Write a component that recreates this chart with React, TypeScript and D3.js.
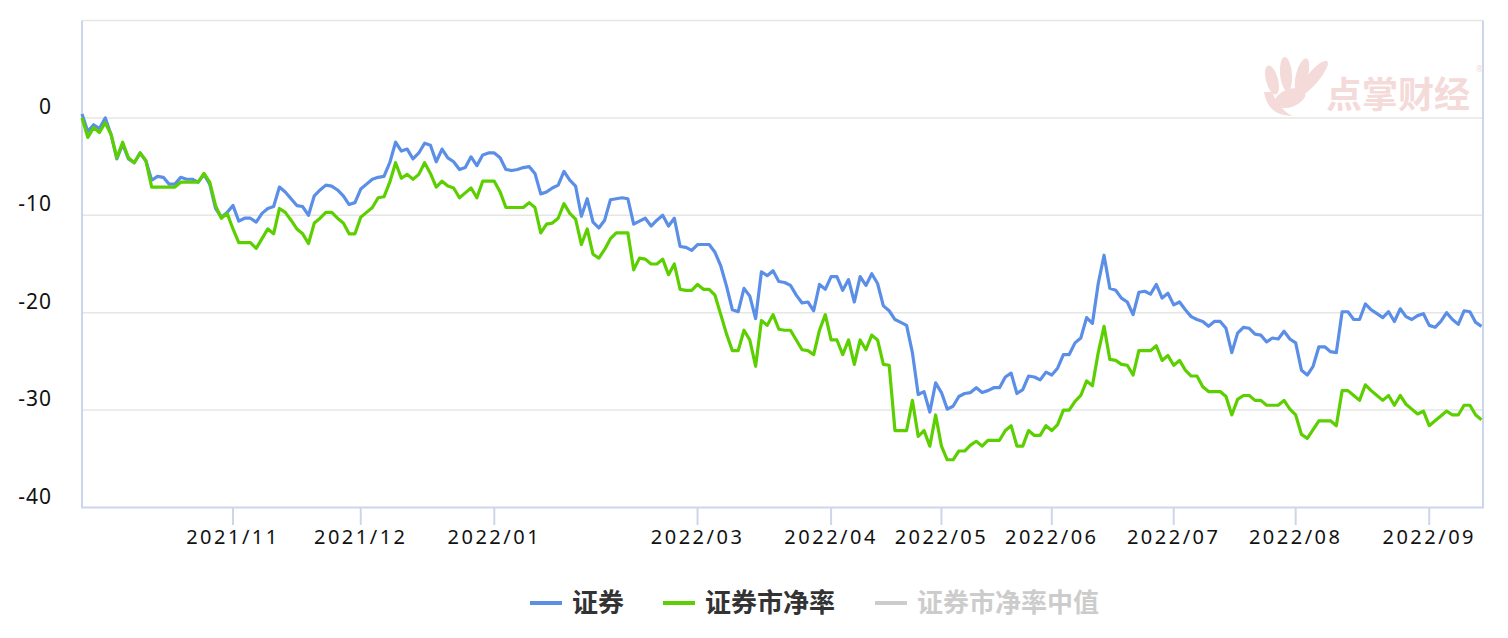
import React from "react";
import * as d3 from "d3";

const W = 1508;
const H = 638;

// Cumulative % change, one value per trading day (2021-09-15 .. 2022-09-14)
const securities: number[] = [
  0.4, -1.4, -0.7, -1.1, 0.0, -1.7, -4.2, -2.7, -4.2, -4.6,
  -3.6, -4.4, -6.4, -6.0, -6.1, -6.8, -6.8, -6.1, -6.3, -6.3,
  -6.6, -5.8, -6.8, -9.3, -10.2, -9.7, -9.0, -10.6, -10.3, -10.3,
  -10.7, -9.8, -9.3, -9.1, -7.1, -7.6, -8.3, -9.0, -9.1, -10.0,
  -8.0, -7.4, -6.9, -7.0, -7.4, -8.0, -8.9, -8.7, -7.3, -6.8,
  -6.3, -6.1, -6.0, -4.6, -2.5, -3.4, -3.2, -4.2, -3.6, -2.6,
  -2.8, -4.5, -3.2, -4.1, -4.5, -5.3, -5.1, -4.0, -4.9, -3.8,
  -3.6, -3.6, -4.1, -5.3, -5.4, -5.3, -5.1, -5.0, -5.7, -7.8,
  -7.6, -7.2, -6.9, -5.5, -6.4, -7.0, -10.1, -8.3, -10.7, -11.3,
  -10.5, -8.4, -8.3, -8.2, -8.3, -10.9, -10.6, -10.3, -11.1, -10.5,
  -10.0, -11.1, -10.3, -13.2, -13.3, -13.6, -13.0, -13.0, -13.0, -13.8,
  -15.2, -17.3, -19.7, -19.9, -17.5, -18.3, -20.6, -15.8, -16.2, -15.7,
  -16.8, -16.9, -17.2, -18.2, -19.0, -18.9, -19.8, -17.1, -17.6, -16.3,
  -16.3, -17.7, -16.6, -18.9, -16.3, -17.2, -16.0, -17.0, -19.3, -19.8,
  -20.7, -21.0, -21.3, -24.1, -28.4, -28.1, -30.2, -27.2, -28.2, -29.9,
  -29.6, -28.6, -28.3, -28.2, -27.7, -28.2, -28.0, -27.7, -27.7, -26.6,
  -26.2, -28.3, -27.9, -26.5, -26.6, -26.9, -26.1, -26.4, -25.7, -24.3,
  -24.3, -23.1, -22.6, -20.5, -21.1, -17.0, -14.1, -17.5, -17.7, -18.5,
  -18.9, -20.2, -17.9, -17.8, -18.1, -17.1, -18.5, -18.0, -19.2, -18.9,
  -19.7, -20.4, -20.7, -20.9, -21.4, -20.9, -20.9, -21.6, -24.1, -22.1,
  -21.5, -21.6, -22.2, -22.3, -23.0, -22.6, -22.7, -21.9, -22.7, -23.1,
  -25.9, -26.4, -25.5, -23.5, -23.5, -24.0, -24.1, -19.9, -19.9, -20.7,
  -20.7, -19.1, -19.7, -20.1, -20.5, -19.9, -20.9, -19.6, -20.4, -20.7,
  -20.3, -20.1, -21.3, -21.5, -20.9, -20.0, -20.7, -21.2, -19.8, -19.9,
  -21.0, -21.4,
];

const securitiesPB: number[] = [
  0.0, -2.0, -1.0, -1.5, -0.5, -1.7, -4.1, -2.5, -4.1, -4.6,
  -3.6, -4.4, -7.1, -7.1, -7.1, -7.1, -7.1, -6.6, -6.6, -6.6,
  -6.6, -5.7, -6.6, -9.0, -10.3, -9.8, -11.4, -12.8, -12.8, -12.8,
  -13.4, -12.4, -11.4, -11.9, -9.3, -9.7, -10.5, -11.4, -11.9, -12.9,
  -10.8, -10.3, -9.7, -9.7, -10.3, -10.8, -11.9, -11.9, -10.2, -9.7,
  -9.2, -8.2, -8.1, -6.6, -4.6, -6.2, -5.8, -6.3, -5.8, -4.6,
  -5.7, -7.1, -6.5, -7.0, -7.2, -8.2, -7.7, -7.2, -8.2, -6.5,
  -6.5, -6.5, -7.6, -9.2, -9.2, -9.2, -9.2, -8.7, -9.2, -11.8,
  -10.9, -10.8, -10.3, -8.8, -9.8, -10.4, -13.0, -11.4, -14.0, -14.4,
  -13.5, -12.4, -11.8, -11.8, -11.8, -15.6, -14.4, -14.5, -15.0, -15.0,
  -14.5, -16.1, -15.0, -17.6, -17.7, -17.7, -17.1, -17.6, -17.6, -18.2,
  -20.2, -22.2, -23.9, -23.9, -21.8, -22.8, -25.5, -20.8, -21.3, -20.2,
  -21.7, -21.8, -21.8, -22.8, -23.8, -23.9, -24.3, -21.8, -20.2, -22.8,
  -22.8, -24.3, -22.8, -25.3, -22.8, -23.8, -22.3, -22.8, -25.3, -25.4,
  -32.1, -32.1, -32.1, -29.0, -32.7, -32.1, -33.7, -30.5, -33.7, -35.1,
  -35.1, -34.2, -34.2, -33.6, -33.2, -33.7, -33.1, -33.1, -33.1, -32.1,
  -31.6, -33.7, -33.7, -32.1, -32.6, -32.6, -31.6, -32.1, -31.5, -30.0,
  -30.0, -29.1, -28.5, -27.0, -27.5, -24.1, -21.4, -24.8, -24.9, -25.3,
  -25.4, -26.4, -23.9, -23.9, -23.9, -23.4, -24.9, -24.4, -25.4, -24.9,
  -25.9, -26.5, -26.5, -27.6, -28.1, -28.1, -28.1, -28.6, -30.5, -28.9,
  -28.5, -28.5, -29.0, -29.0, -29.5, -29.5, -29.5, -29.0, -29.9, -30.5,
  -32.5, -32.9, -32.0, -31.1, -31.1, -31.1, -31.6, -28.0, -28.0, -28.5,
  -29.0, -27.4, -28.0, -28.5, -29.0, -28.5, -29.5, -28.5, -29.4, -29.9,
  -30.4, -30.1, -31.6, -31.1, -30.6, -30.1, -30.5, -30.5, -29.5, -29.5,
  -30.5, -31.0,
];

// month labels on the category axis and the trading-day index they fall on
const monthLabels: string[] = [
  "2021/11", "2021/12", "2022/01", "2022/03", "2022/04",
  "2022/05", "2022/06", "2022/07", "2022/08", "2022/09",
];
const monthIndex: number[] = [26, 48, 71, 106, 129, 148, 167, 188, 209, 232];

const yTicks: number[] = [0, -10, -20, -30, -40];
const gridValues: number[] = [10, 0, -10, -20, -30];

const seriesNames: string[] = ["证券", "证券市净率", "证券市净率中值"];
const seriesColors: string[] = ["#5b8ee6", "#5ccf00", "#cccccc"];

export default function App() {
  const left = 82;
  const right = 1483;
  const top = 20.5;
  const bottom = 507.5;
  const n = securities.length;

  const x = d3.scaleLinear().domain([0, n - 1]).range([82, 1481.5]);
  const y = d3.scaleLinear().domain([-40, 10]).range([bottom, top]);

  const line = d3
    .line<number>()
    .x((_, i) => x(i))
    .y((d) => y(d));

  const axisColor = "#ccd6eb";
  const gridColor = "#e6e6e6";
  const labelFont = "'Noto Sans', 'DejaVu Sans', sans-serif";
  const cjkFont = "'Noto Sans CJK SC', sans-serif";

  const legendItems = [
    { name: seriesNames[0], color: seriesColors[0], textColor: "#333333", x: 530 },
    { name: seriesNames[1], color: seriesColors[1], textColor: "#333333", x: 663 },
    { name: seriesNames[2], color: seriesColors[2], textColor: "#cccccc", x: 875 },
  ];

  return (
    <svg
      width={W}
      height={H}
      style={{ position: "absolute", left: 0, top: 0, background: "#ffffff" }}
    >
      {/* watermark */}
      <g opacity={0.9}>
        <g fill="#f4d6d6">
          <ellipse cx={1272} cy={80} rx={6} ry={15} transform="rotate(-15 1272 80)" />
          <ellipse cx={1286} cy={74} rx={6} ry={17} transform="rotate(-5 1286 74)" />
          <ellipse cx={1302} cy={75} rx={6} ry={17} transform="rotate(15 1302 75)" />
          <ellipse cx={1313} cy={78} rx={6} ry={22} transform="rotate(40 1313 78)" />
          <ellipse cx={1290} cy={98} rx={16} ry={9} transform="rotate(-20 1290 98)" />
          <path d="M1264 92 Q1268 116 1292 116 Q1278 108 1272 92 Z" />
        </g>
        <text
          x={1326}
          y={108}
          fontFamily={cjkFont}
          fontWeight={700}
          fontSize={36}
          fill="#f4d6d6"
        >
          点掌财经
        </text>
        <text x={1476} y={72} fontFamily={labelFont} fontSize={9} fill="#f4d6d6">
          ®
        </text>
      </g>

      {/* grid lines */}
      {gridValues.map((v) => (
        <line
          key={"g" + v}
          x1={left}
          x2={right}
          y1={y(v)}
          y2={y(v)}
          stroke={gridColor}
          strokeWidth={1.5}
        />
      ))}

      {/* axes */}
      <line x1={left} x2={left} y1={top} y2={bottom} stroke={axisColor} strokeWidth={2} />
      <line x1={right} x2={right} y1={top} y2={bottom} stroke={axisColor} strokeWidth={2} />
      <line x1={left - 1} x2={right + 1} y1={bottom} y2={bottom} stroke={axisColor} strokeWidth={2} />

      {/* y labels */}
      {yTicks.map((v) => (
        <text
          key={"y" + v}
          x={52}
          y={y(v) - 4}
          textAnchor="end"
          fontFamily={labelFont}
          fontSize={21}
          letterSpacing={1}
          fill="#111111"
        >
          {v === 0 ? "0" : "-" + Math.abs(v)}
        </text>
      ))}

      {/* x ticks and labels */}
      {monthLabels.map((lab, k) => {
        const xx = x(monthIndex[k]);
        return (
          <g key={lab}>
            <line x1={xx} x2={xx} y1={bottom} y2={525} stroke={axisColor} strokeWidth={2} />
            <text
              x={xx}
              y={544}
              textAnchor="middle"
              fontFamily={labelFont}
              fontSize={20}
              letterSpacing={2.5}
              fill="#111111"
            >
              {lab}
            </text>
          </g>
        );
      })}

      {/* series */}
      <path
        d={line(securities) || ""}
        fill="none"
        stroke={seriesColors[0]}
        strokeWidth={3.2}
        strokeLinejoin="round"
      />
      <path
        d={line(securitiesPB) || ""}
        fill="none"
        stroke={seriesColors[1]}
        strokeWidth={3.2}
        strokeLinejoin="round"
      />

      {/* legend */}
      {legendItems.map((it) => (
        <g key={it.name}>
          <line
            x1={it.x}
            x2={it.x + 32}
            y1={603}
            y2={603}
            stroke={it.color}
            strokeWidth={4}
          />
          <text
            x={it.x + 42}
            y={612}
            fontFamily={cjkFont}
            fontWeight={700}
            fontSize={26}
            fill={it.textColor}
          >
            {it.name}
          </text>
        </g>
      ))}
    </svg>
  );
}
